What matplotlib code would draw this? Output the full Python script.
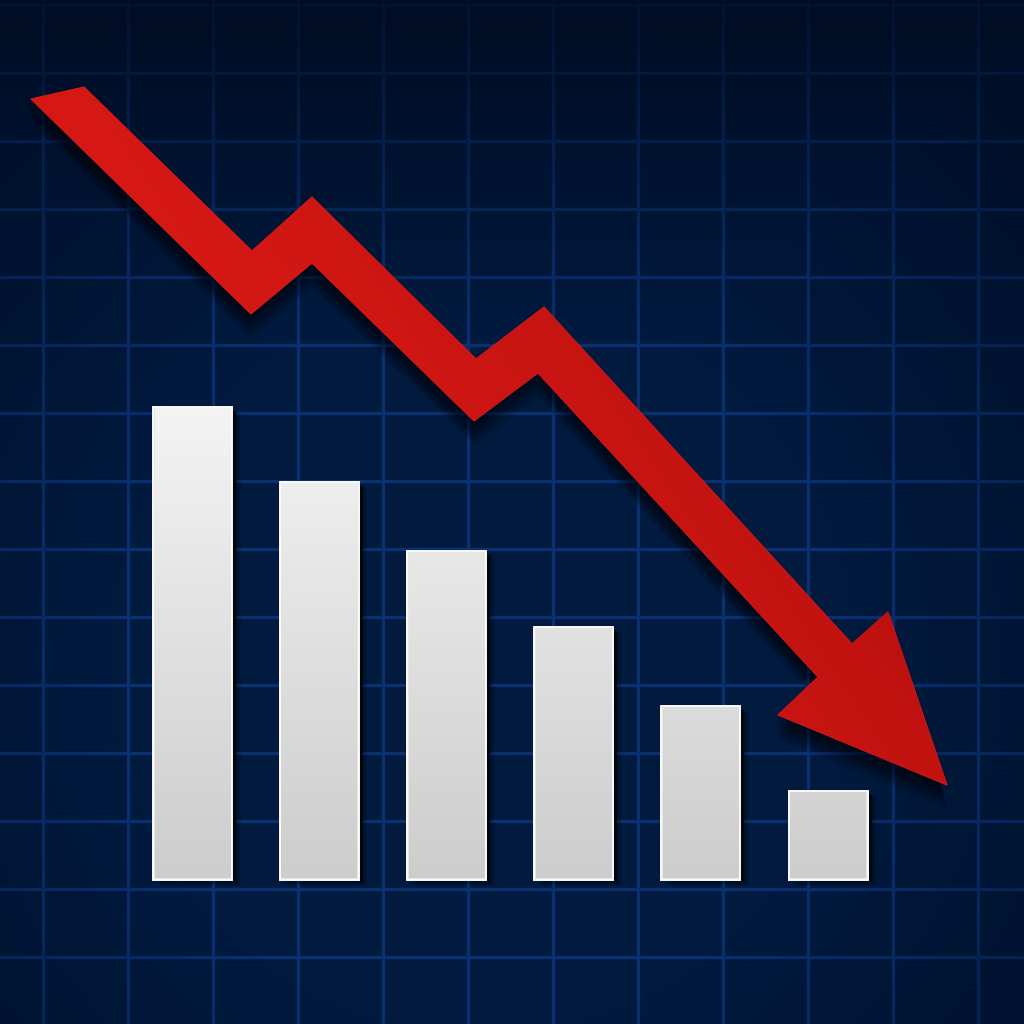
import matplotlib
matplotlib.use("Agg")
import matplotlib.pyplot as plt
import numpy as np
from matplotlib.patches import Polygon
from matplotlib.colors import LinearSegmentedColormap

# bar chart data (heights above the baseline)
categories = ["1", "2", "3", "4", "5", "6"]
values = [473, 398, 329, 253, 174, 89]
bar_centers = [192.5, 319, 446.5, 573.5, 700.5, 828]

# downward arrow outline (image pixels, y measured from the top)
arrow_x = [31, 84, 252, 312, 476, 544, 852, 888, 947, 778, 818, 538, 474, 312, 251]
arrow_y = [99, 87, 251, 197, 359, 307, 644, 612, 785, 715, 677, 373, 421, 263, 314]

W = 1024
BASE = W - 880

fig = plt.figure(figsize=(10.24, 10.24), dpi=100)
ax = fig.add_axes([0, 0, 1, 1])
ax.set_xlim(0, W)
ax.set_ylim(0, W)
ax.axis("off")

# background: flat navy
yy, xx = np.mgrid[0:W:4, 0:W:4]
ax.imshow(np.full((4, 4, 3), np.array([0x01, 0x1a, 0x3e]) / 255), extent=[0, W, 0, W],
          origin="lower", zorder=0)

# grid
for gx in np.arange(43, W, 85):
    ax.axvline(gx, color="#0a3070", lw=2.4, zorder=1)
for gy in np.arange(5, W, 68):
    ax.axhline(W - gy, color="#0a3070", lw=2.4, zorder=1)

# vignette darkening edges and the bottom (yy measured from the top)
r = np.sqrt(((xx - 480) / 820) ** 2 + ((yy - 360) / 820) ** 2)
a = np.clip((r - 0.45) * 1.2, 0, 0.7)
a = np.maximum(a, np.clip((yy - 680) / 450, 0, 0.72))
vig = np.zeros(xx.shape + (4,))
vig[..., 0:3] = np.array([0x00, 0x08, 0x1a]) / 255
vig[..., 3] = a
ax.imshow(vig, extent=[0, W, W, 0], origin="upper", zorder=1.5, interpolation="bilinear")

# bars
bar_w = 79
for xc, v in zip(bar_centers, values):
    ax.add_patch(plt.Rectangle((xc + bar_w / 2 - 2, BASE - 2), 6, v - 2,
                               color="#0a0a0a", alpha=0.85, lw=0, zorder=2))
    for k in range(4):
        ax.add_patch(plt.Rectangle((xc - bar_w / 2 + 4 + k * 1.5, BASE - 3 - k), bar_w, v,
                                   color="black", alpha=0.1, lw=0, zorder=2))
bars = ax.bar(bar_centers, values, width=bar_w, bottom=BASE, color="#e6e6e6",
              edgecolor="#fbfbfb", linewidth=1.4, zorder=3)
bar_cmap = LinearSegmentedColormap.from_list("bar", ["#cdcdcd", "#f4f4f4"])
for b in bars:
    x0, y0 = b.get_x(), b.get_y()
    top = y0 + b.get_height()
    # one vertical gradient shared by all bars, so the short bar ends up greyer
    g = np.linspace((y0 - BASE) / 480, (top - BASE) / 480, 128)[:, None] * np.ones((1, 8))
    img = ax.imshow(g, extent=[x0 + 1.5, x0 + bar_w - 1.5, y0 + 1.5, top - 1.5], origin="lower",
                    cmap=bar_cmap, vmin=0, vmax=1, zorder=3.5, aspect="auto")
    img.set_clip_path(b)

# arrow
pts = np.column_stack([arrow_x, W - np.array(arrow_y)])
for k in range(9):
    shadow = Polygon(pts + np.array([-3 + k * 0.4, -5 - k * 2.4]), closed=True,
                     color="black", alpha=0.08, lw=0, zorder=4)
    ax.add_patch(shadow)
arrow = Polygon(pts, closed=True, facecolor="#d4171a", edgecolor="#e01a1a", lw=0.8, zorder=5)
ax.add_patch(arrow)
arrow_cmap = LinearSegmentedColormap.from_list("arr", ["#dc1a16", "#d11714", "#c21311", "#a30b0c"])
t = (xx / W) * 0.6 + (yy / W) * 0.4
img = ax.imshow(t, extent=[0, W, W, 0], origin="upper", cmap=arrow_cmap, vmin=0.3, vmax=0.82,
                zorder=5.5, interpolation="bilinear")
img.set_clip_path(arrow)

fig.savefig("out.png", dpi=100, facecolor="#000d22")
